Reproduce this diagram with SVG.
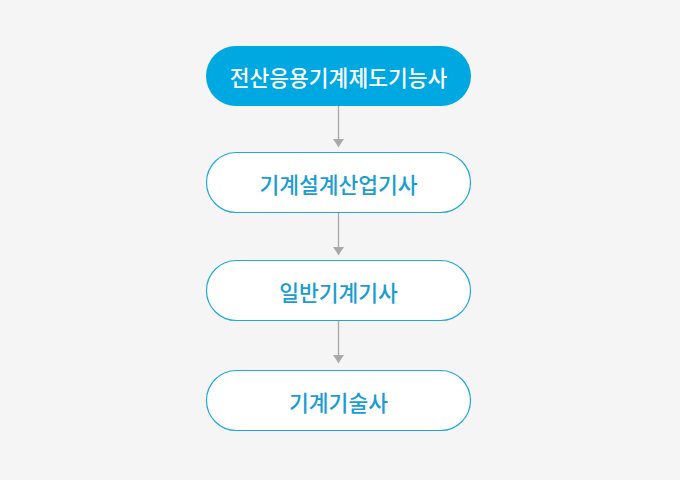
<svg xmlns="http://www.w3.org/2000/svg" width="680" height="480" viewBox="0 0 680 480">
<defs>
<marker id="ah" viewBox="0 0 8 11" refX="8" refY="5.5" markerWidth="8" markerHeight="11" markerUnits="userSpaceOnUse" orient="auto">
<path d="M0,0 L8,5.5 L0,11 Z" fill="#a8a8a8"/>
</marker>
</defs>
<style>
.bg{fill:#f5f5f5}
.pill{fill:#ffffff;stroke:#1fa8dc;stroke-width:1.2}
.pill-main{fill:#00a8e1}
.t{font-family:"Noto Sans CJK KR","Noto Sans",sans-serif;font-weight:500;font-size:21.5px;fill:#1a9dd2;text-anchor:middle;dominant-baseline:central}
.t-main{fill:#ffffff}
.conn{stroke:#a8a8a8;stroke-width:1.3;fill:none;marker-end:url(#ah)}
</style>
<rect class="bg" x="0" y="0" width="680" height="480"/>
<g id="connectors">
<line class="conn" x1="338.5" y1="106" x2="338.5" y2="147"/>
<line class="conn" x1="338.5" y1="213" x2="338.5" y2="255"/>
<line class="conn" x1="338.5" y1="321" x2="338.5" y2="363"/>
</g>
<g id="node1">
<rect class="pill-main" x="206" y="46" width="265" height="60" rx="30"/>
<text class="t t-main" x="338.5" y="76">전산응용기계제도기능사</text>
</g>
<g id="node2">
<rect class="pill" x="206.5" y="152.5" width="264" height="60" rx="30"/>
<text class="t" x="338.5" y="183">기계설계산업기사</text>
</g>
<g id="node3">
<rect class="pill" x="206.5" y="260.5" width="264" height="60" rx="30"/>
<text class="t" x="338.5" y="291">일반기계기사</text>
</g>
<g id="node4">
<rect class="pill" x="206.5" y="370.5" width="264" height="60" rx="30"/>
<text class="t" x="338.5" y="401">기계기술사</text>
</g>
</svg>
